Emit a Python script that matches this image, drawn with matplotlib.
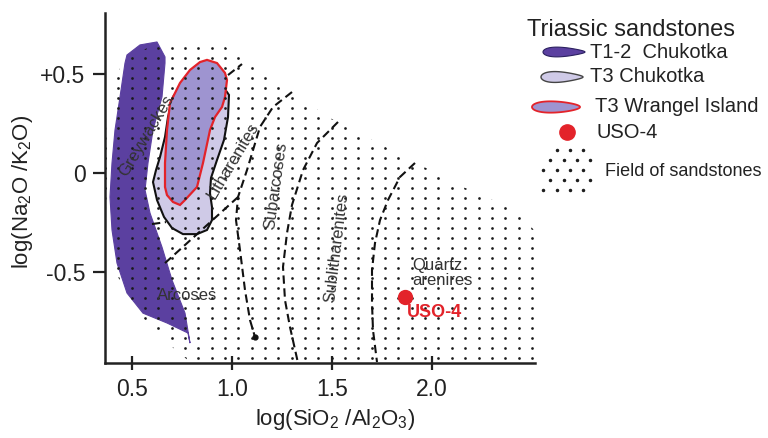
import numpy as np
import matplotlib
matplotlib.use("Agg")
import matplotlib.pyplot as plt
from matplotlib.patches import Polygon
from matplotlib.transforms import Affine2D
from matplotlib.lines import Line2D

plt.rcParams['font.family'] = ['Liberation Sans', 'DejaVu Sans']
plt.rcParams['mathtext.fontset'] = 'custom'
plt.rcParams['mathtext.rm'] = 'Liberation Sans'
plt.rcParams['mathtext.it'] = 'Liberation Sans:italic'
plt.rcParams['mathtext.default'] = 'regular'

# ---------------- data ----------------
x_ticks = [0.5, 1.0, 1.5, 2.0]
x_tick_labels = ['0.5', '1.0', '1.5', '2.0']
y_ticks = [0.5, 0.0, -0.5]
y_tick_labels = ['+0.5', '0', '-0.5']

# T1-2 Chukotka field outline
t12_x = [0.625, 0.665, 0.665, 0.65, 0.605, 0.58, 0.565, 0.59, 0.65, 0.70, 0.765, 0.79,
         0.78, 0.675, 0.555, 0.475, 0.425, 0.40, 0.39, 0.40, 0.415, 0.44, 0.465, 0.475, 0.54]
t12_y = [0.665, 0.589, 0.558, 0.386, 0.218, 0.051, -0.086, -0.203, -0.376, -0.543, -0.711, -0.863,
         -0.812, -0.761, -0.711, -0.609, -0.457, -0.289, -0.122, 0.051, 0.218, 0.386, 0.558, 0.599, 0.65]

# T3 Chukotka field outline (top part lies under the Wrangel field)
t3c_x = [0.84, 0.93, 0.955, 0.985, 0.98, 0.96, 0.925, 0.895, 0.89, 0.90, 0.90, 0.875, 0.825,
         0.755, 0.70, 0.66, 0.625, 0.605, 0.62, 0.64, 0.665, 0.68, 0.705, 0.75]
t3c_y = [0.50, 0.48, 0.44, 0.396, 0.284, 0.168, 0.066, -0.025, -0.102, -0.173, -0.239, -0.289, -0.310,
         -0.310, -0.279, -0.223, -0.137, -0.046, 0.015, 0.081, 0.183, 0.284, 0.386, 0.45]

# T3 Wrangel Island field outline
t3w_x = [0.875, 0.925, 0.965, 0.975, 0.965, 0.95, 0.915, 0.89, 0.855, 0.825, 0.765, 0.74, 0.705,
         0.675, 0.665, 0.665, 0.675, 0.69, 0.74, 0.79, 0.84]
t3w_y = [0.574, 0.558, 0.508, 0.472, 0.386, 0.335, 0.284, 0.218, 0.051, -0.071, -0.137, -0.162, -0.147,
         -0.112, -0.071, 0.051, 0.218, 0.355, 0.457, 0.523, 0.563]

# Field of sandstones outline
field_x = [0.375, 0.40, 0.465, 0.59, 0.69, 0.915, 1.04, 1.14, 1.34, 1.49, 1.70, 1.915, 2.10, 2.325,
           2.425, 2.51, 2.51, 0.79, 0.69, 0.555, 0.465, 0.405, 0.38, 0.37, 0.37]
field_y = [0.279, 0.447, 0.584, 0.640, 0.670, 0.670, 0.599, 0.533, 0.381, 0.279, 0.168, 0.056, -0.046,
           -0.147, -0.198, -0.289, -0.959, -0.959, -0.873, -0.736, -0.619, -0.457, -0.289, -0.086, 0.117]

# classification boundaries (dashed)
d1_x = [0.665, 1.03]
d1_y = [-0.457, -0.122]
d2_x = [0.60, 0.67]
d2_y = [-0.259, -0.249]
d3_x = [0.98, 1.05]
d3_y = [0.497, 0.553]
c1_x = [1.30, 1.205, 1.14, 1.075, 1.03, 1.02, 1.04, 1.065, 1.09, 1.115]
c1_y = [0.411, 0.335, 0.234, 0.015, -0.122, -0.239, -0.391, -0.594, -0.746, -0.832]
c2_x = [1.53, 1.48, 1.425, 1.355, 1.30, 1.275, 1.255, 1.265, 1.29, 1.33]
c2_y = [0.259, 0.208, 0.152, 0.015, -0.162, -0.305, -0.477, -0.645, -0.782, -0.964]
c3_x = [1.915, 1.84, 1.78, 1.74, 1.715, 1.70, 1.70, 1.705, 1.725]
c3_y = [0.051, -0.02, -0.137, -0.239, -0.355, -0.492, -0.66, -0.797, -0.959]

# sample
uso_x = [1.865]
uso_y = [-0.63]

# field names
field_names = ['Greywackes', 'Litharenites', 'Subarcoses', 'Sublitharenites', 'Arcoses']
field_name_x = [0.57, 1.005, 1.22, 1.525, 0.775]
field_name_y = [0.19, 0.06, -0.066, -0.38, -0.624]
field_name_rot = [59, 59, 82, 83, 0]

# colours
c_dark = '#5b40a0'
c_light = '#cfcae7'
c_mid = '#9e94d0'
c_red = '#e3232a'
c_text = '#333333'

# ---------------- figure ----------------
fig = plt.figure(figsize=(7.68, 4.38), dpi=100)
ax = fig.add_axes([105 / 768, 75 / 438, 430 / 768, 350 / 438])
ax.set_xlim(0.365, 2.515)
ax.set_ylim(-0.964, 0.812)

for s in ['top', 'right']:
    ax.spines[s].set_visible(False)
for s in ['left', 'bottom']:
    ax.spines[s].set_linewidth(1.8)
    ax.spines[s].set_color('#222222')

ax.set_xticks(x_ticks)
ax.set_xticklabels(x_tick_labels)
ax.set_yticks(y_ticks)
ax.set_yticklabels(y_tick_labels)
ax.tick_params(axis='x', direction='inout', length=10, width=1.6, pad=6,
               labelsize=16.5, colors='#222222')
ax.tick_params(axis='y', direction='out', length=9, width=1.6, pad=5,
               labelsize=16.5, colors='#222222')

ax.set_xlabel('log(SiO$_2$ /Al$_2$O$_3$)', fontsize=16, color='#222222')
ax.xaxis.set_label_coords(0.5 + 15 / 430, -44 / 350)
ax.set_ylabel('log(Na$_2$O /K$_2$O)', fontsize=16, color='#222222')
ax.yaxis.set_label_coords(-70 / 430, 0.49)

# fields
ax.add_patch(Polygon(np.column_stack([t12_x, t12_y]), closed=True, facecolor=c_dark,
                     edgecolor=c_dark, lw=0.8, zorder=2))
ax.add_patch(Polygon(np.column_stack([t3c_x, t3c_y]), closed=True, facecolor=c_light,
                     edgecolor='#111111', lw=1.5, zorder=2))
ax.add_patch(Polygon(np.column_stack([t3w_x, t3w_y]), closed=True, facecolor=c_mid,
                     edgecolor=c_red, lw=1.6, zorder=3))

# dotted field of sandstones
field_patch = Polygon(np.column_stack([field_x, field_y]), closed=True, fill=False,
                      edgecolor='none', zorder=1)
ax.add_patch(field_patch)
gx = np.arange(0.365, 2.52, 0.0667)
gy = np.arange(-0.939, 0.70, 0.0508)
GX, GY = np.meshgrid(gx, gy)
dots = ax.scatter(GX.ravel(), GY.ravel(), s=3.8, color='#1a1a1a', linewidths=0, zorder=4)
dots.set_clip_path(field_patch)

# boundaries
dash = (0, (4, 2.2))
for xs, ys in [(d1_x, d1_y), (d2_x, d2_y), (d3_x, d3_y), (c1_x, c1_y), (c2_x, c2_y), (c3_x, c3_y)]:
    ax.plot(xs, ys, color='#111111', lw=1.5, linestyle=dash, zorder=5)
ax.plot(c1_x[-1:], c1_y[-1:], 'o', color='#111111', ms=3.5, zorder=5)

# field names
for name, tx, ty, rot in zip(field_names, field_name_x, field_name_y, field_name_rot):
    ax.text(tx, ty, name, rotation=rot, ha='center', va='center', fontsize=12,
            color=c_text, zorder=6)
ax.text(1.9, -0.505, 'Quartz\narenires', ha='left', va='center', fontsize=12,
        color=c_text, linespacing=1.0, zorder=6)

# sample
ax.plot(uso_x, uso_y, 'o', color=c_red, ms=10, zorder=7)
ax.text(uso_x[0] + 0.01, uso_y[0] - 0.08, 'USO-4', ha='left', va='center', fontsize=13,
        fontweight='bold', color=c_red, zorder=7)

# ---------------- legend (pixel layout) ----------------
pix = Affine2D().scale(1 / 768, -1 / 438).translate(0, 1) + fig.transFigure


def leaf(cx, cy, w, h, taper):
    t = np.linspace(0, 2 * np.pi, 80)
    xx = cx + w / 2 * np.cos(t)
    yy = cy + h / 2 * np.sin(t) * (1 - taper * np.cos(t))
    return np.column_stack([xx, yy])


fig.text(527 / 768, 1 - 30 / 438, 'Triassic sandstones', fontsize=17, color='#222222',
         ha='left', va='center')
fig.add_artist(Polygon(leaf(564, 52, 42, 9, 0.45), closed=True, facecolor=c_dark,
                       edgecolor='#2b2060', lw=0.8, transform=pix))
fig.text(590 / 768, 1 - 53 / 438, 'T1-2  Chukotka', fontsize=14.5, color='#222222',
         ha='left', va='center')
fig.add_artist(Polygon(leaf(562, 77, 42, 10, 0.45), closed=True, facecolor=c_light,
                       edgecolor='#444444', lw=1.0, transform=pix))
fig.text(590 / 768, 1 - 77 / 438, 'T3 Chukotka', fontsize=14.5, color='#222222',
         ha='left', va='center')
fig.add_artist(Polygon(leaf(556, 107, 48, 11, 0.25), closed=True, facecolor=c_mid,
                       edgecolor=c_red, lw=1.3, transform=pix))
fig.text(595 / 768, 1 - 107 / 438, 'T3 Wrangel Island', fontsize=14.5, color='#222222',
         ha='left', va='center')
fig.add_artist(Line2D([567], [132], marker='o', ms=11, color=c_red, linestyle='none',
                      transform=pix))
fig.text(597 / 768, 1 - 132 / 438, 'USO-4', fontsize=14.5, color='#222222',
         ha='left', va='center')
lx = np.array([543, 550, 557, 563, 570, 577, 583], dtype=float)
ly = np.array([150, 160, 170, 180, 190], dtype=float)
LX, LY = np.meshgrid(lx[::2], ly)
LX = LX + (np.arange(len(ly))[:, None] % 2) * 6.5
keep = (LX - 535) > (LY - 190) * -0.25
fig.add_artist(Line2D(LX[keep], LY[keep], marker='o', ms=1.5, color='#1e1e1e',
                      linestyle='none', transform=pix))
fig.text(605 / 768, 1 - 171 / 438, 'Field of sandstones', fontsize=13, color='#222222',
         ha='left', va='center')

fig.savefig('out.png', dpi=100)
